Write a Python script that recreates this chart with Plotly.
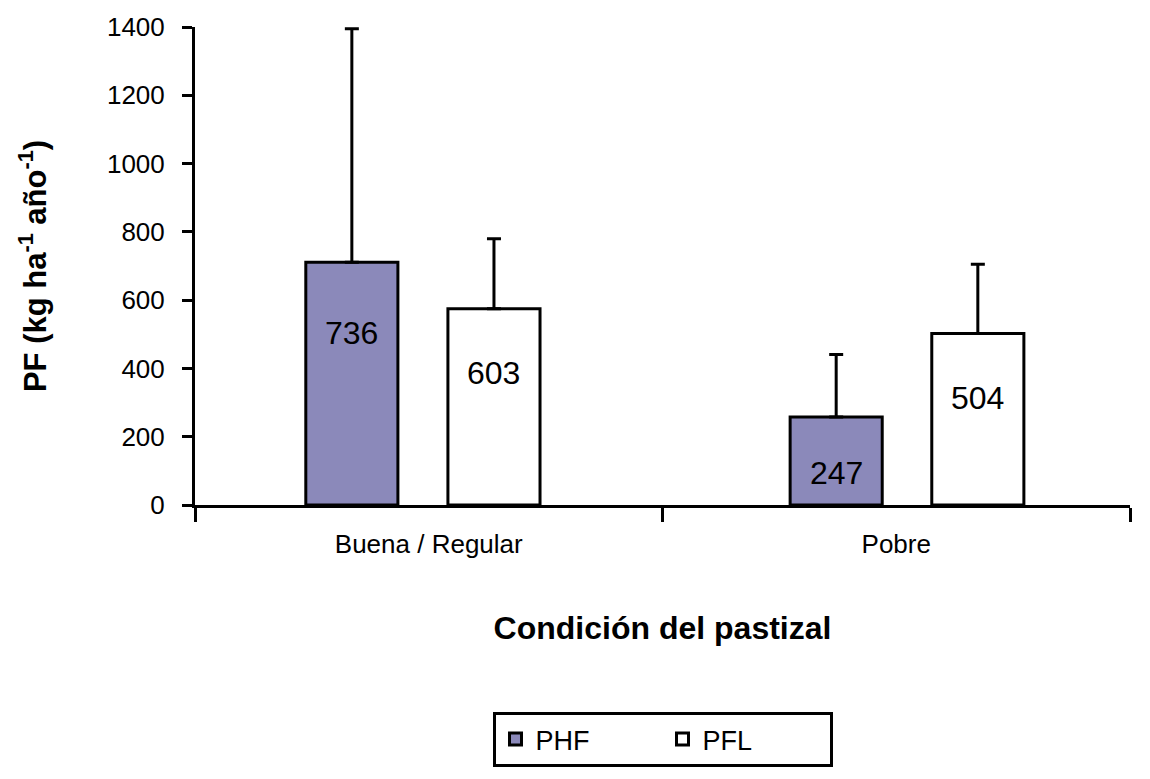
import plotly.graph_objects as go

# ---- data ----
categories = ["Buena / Regular", "Pobre"]
phf_values = [711, 258]          # bar heights (kg ha-1 año-1)
pfl_values = [575, 502]
phf_err_plus = [684, 183]        # upper error
pfl_err_plus = [205, 203]
phf_labels = ["736", "247"]      # printed data labels
pfl_labels = ["603", "504"]
phf_label_y = [503, 94]          # where the labels sit (data units)
pfl_label_y = [386, 313]

# ---- layout helpers (category units) ----
bar_width = 0.197
phf_offset = [-0.263, -0.227]
pfl_offset = [0.041, 0.076]

FONT = "Arial, Liberation Sans, sans-serif"
PHF_COLOR = "#8B89BA"

fig = go.Figure()
fig.add_trace(go.Bar(
    name="PHF", x=categories, y=phf_values,
    width=[bar_width] * len(categories), offset=phf_offset,
    marker=dict(color=PHF_COLOR, line=dict(color="black", width=3)),
    error_y=dict(type="data", symmetric=False, array=phf_err_plus,
                 arrayminus=[0] * len(categories), color="black",
                 thickness=3, width=7),
))
fig.add_trace(go.Bar(
    name="PFL", x=categories, y=pfl_values,
    width=[bar_width] * len(categories), offset=pfl_offset,
    marker=dict(color="white", line=dict(color="black", width=3)),
    error_y=dict(type="data", symmetric=False, array=pfl_err_plus,
                 arrayminus=[0] * len(categories), color="black",
                 thickness=3, width=7),
))

annotations = []
for i in range(len(categories)):
    for offs, ly, txt in ((phf_offset, phf_label_y, phf_labels),
                          (pfl_offset, pfl_label_y, pfl_labels)):
        annotations.append(dict(
            x=i + offs[i] + bar_width / 2, y=ly[i], xref="x", yref="y",
            text=txt[i], showarrow=False,
            font=dict(family=FONT, size=32, color="black"),
        ))

fig.update_layout(
    width=1150, height=779,
    margin=dict(l=195, r=20, t=25, b=274),
    paper_bgcolor="white", plot_bgcolor="white",
    barmode="group",
    font=dict(family=FONT, color="black"),
    showlegend=True,
    legend=dict(
        orientation="h", x=0.5, xanchor="center", y=-0.433, yanchor="top",
        bordercolor="black", borderwidth=3, font=dict(size=27, family=FONT),
        entrywidth=122, traceorder="normal",
    ),
    annotations=annotations,
)
fig.update_xaxes(
    type="category", tickson="boundaries", ticks="outside", ticklen=14,
    tickwidth=3, tickcolor="black", showline=True, linewidth=3,
    linecolor="black", showgrid=False, tickfont=dict(size=26, family=FONT),
    ticklabelstandoff=14,
    title=dict(text="<b>Condición del pastizal</b>",
               font=dict(size=32, family=FONT), standoff=59),
)
fig.update_yaxes(
    range=[0, 1400], dtick=200, ticks="outside", ticklen=10, tickwidth=3,
    tickcolor="black", showline=True, linewidth=3, linecolor="black",
    showgrid=False, zeroline=False, tickfont=dict(size=26, family=FONT),
    ticklabelstandoff=12,
    title=dict(text="<b>PF (kg ha<sup>-1</sup> año<sup>-1</sup>)</b>",
               font=dict(size=31, family=FONT), standoff=52),
)

fig.write_html("out.html", config={"displayModeBar": False},
               post_script="document.body.style.margin='0';")
